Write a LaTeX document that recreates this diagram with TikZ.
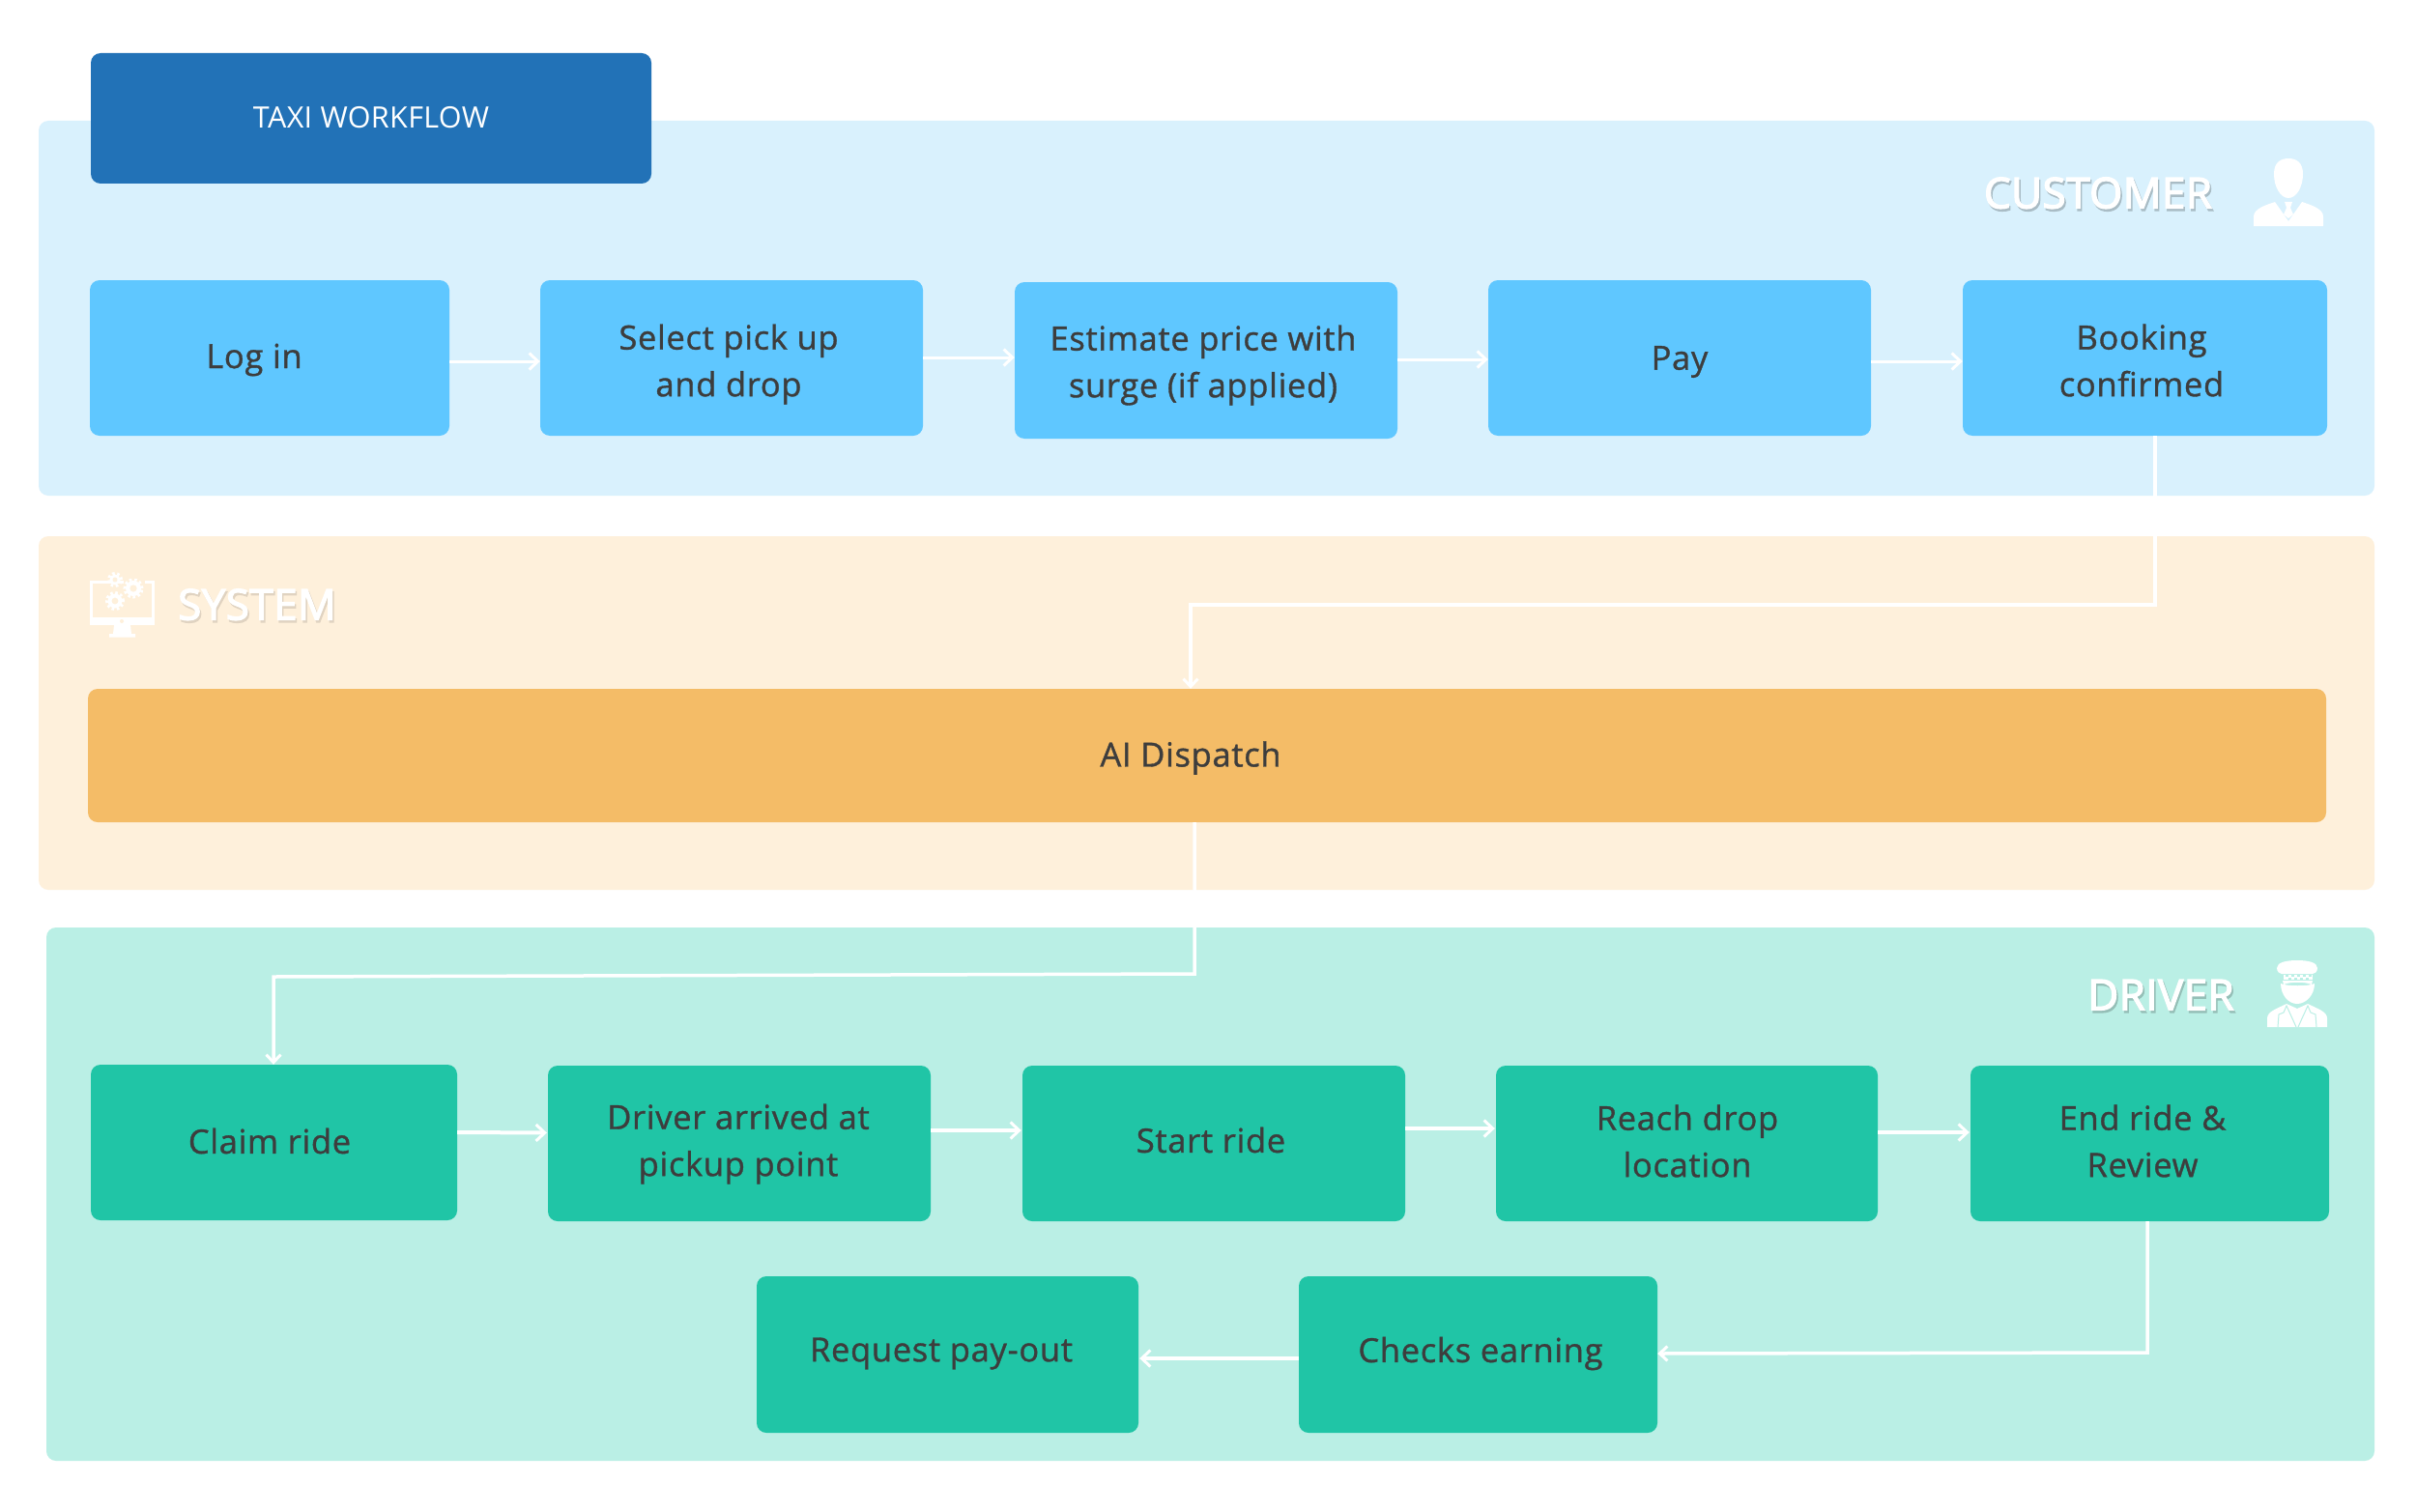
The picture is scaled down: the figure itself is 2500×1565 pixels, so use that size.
\documentclass[tikz,border=0pt]{standalone}
\usepackage{fontspec}
\setmainfont{Open Sans}[LetterSpace=2,FakeBold=1]
\newfontfamily\headfont{Open Sans}[LetterSpace=1,FakeBold=3]
\newfontfamily\titlefont{Open Sans}[LetterSpace=1.2]
\usetikzlibrary{arrows.meta,calc}
\definecolor{custbg}{HTML}{D9F1FD}
\definecolor{sysbg}{HTML}{FEF0DB}
\definecolor{drvbg}{HTML}{BAEFE5}
\definecolor{custbox}{HTML}{5FC7FF}
\definecolor{sysbox}{HTML}{F4BC67}
\definecolor{drvbox}{HTML}{20C5A6}
\definecolor{titlebox}{HTML}{2272B7}
\definecolor{ink}{HTML}{3D3D3D}
\newcommand{\boxat}[6]{% style, name, x1, y1, x2, y2
  \pgfmathsetmacro{\bw}{#5-#3}\pgfmathsetmacro{\bh}{#6-#4}
  \pgfmathsetmacro{\bx}{(#3+#5)/2}\pgfmathsetmacro{\by}{(#4+#6)/2}
  \node[#1,minimum width=\bw pt,minimum height=\bh pt] (#2) at (\bx,\by) {};}
\newcommand{\shadowed}[2]{\leavevmode\rlap{\raisebox{-2.5pt}{\kern1.5pt\textcolor{#1}{#2}}}\textcolor{white}{#2}}
\tikzset{
  x=1pt,y=-1pt,
  band/.style={rectangle,rounded corners=10pt,inner sep=0pt,draw=none},
  card/.style={rectangle,rounded corners=10pt,inner sep=0pt,draw=none},
  boxtext/.style={text=ink,align=center,inner sep=0pt,font=\fontsize{34.5}{48.5}\selectfont},
  head/.style={inner sep=0pt,font=\headfont\fontsize{44}{50}\selectfont},
  flow/.style={draw=white,line width=3pt,-{Straight Barb[length=9pt,width=17pt,line width=3pt]}},
  flowb/.style={draw=white,line width=4pt,-{Straight Barb[length=9pt,width=17pt,line width=3pt]},shorten >=1pt},
  link/.style={draw=white,line width=3.5pt,-{Straight Barb[length=8pt,width=15pt,line width=3pt]}},
}
\begin{document}
\begin{tikzpicture}
\useasboundingbox (0,0) rectangle (2500,1565);
\fill[white] (0,0) rectangle (2500,1565);
% bands
\boxat{band,fill=custbg}{bandcust}{40}{125}{2457}{513}
\boxat{band,fill=sysbg}{bandsys}{40}{555}{2457}{921}
\boxat{band,fill=drvbg}{banddrv}{48}{960}{2457}{1512}
% title
\boxat{card,fill=titlebox}{title}{94}{55}{674}{190}
\node[inner sep=0pt,text=white,font=\titlefont\fontsize{30.5}{36}\selectfont] (titletext) at (384,122) {TAXI WORKFLOW};
% customer row
\boxat{card,fill=custbox}{login}{93}{290}{465}{451}
\boxat{card,fill=custbox}{select}{559}{290}{955}{451}
\boxat{card,fill=custbox}{estimate}{1050}{292}{1446}{454}
\boxat{card,fill=custbox}{pay}{1540}{290}{1936}{451}
\boxat{card,fill=custbox}{booking}{2031}{290}{2408}{451}
\node[boxtext] (tlogin) at (263,372.5) {Log in};
\node[boxtext] (tselect) at (754,377) {Select pick up\\and drop};
\node[boxtext] (testimate) at (1245,378) {Estimate price with\\surge (if applied)};
\node[boxtext] (tpay) at (1738,374.5) {Pay};
\node[boxtext] (tbooking) at (2216,373) {Booking\\confirmed};
% system
\boxat{card,fill=sysbox}{dispatch}{91}{713}{2407}{851}
\node[boxtext] (tdispatch) at (1232,784.5) {AI Dispatch};
% driver rows
\boxat{card,fill=drvbox}{claim}{94}{1102}{473}{1263}
\boxat{card,fill=drvbox}{arrived}{567}{1103}{963}{1264}
\boxat{card,fill=drvbox}{start}{1058}{1103}{1454}{1264}
\boxat{card,fill=drvbox}{reach}{1548}{1103}{1943}{1264}
\boxat{card,fill=drvbox}{endride}{2039}{1103}{2410}{1264}
\boxat{card,fill=drvbox}{payout}{783}{1321}{1178}{1483}
\boxat{card,fill=drvbox}{checks}{1344}{1321}{1715}{1483}
\node[boxtext] (tclaim) at (279,1181) {Claim ride};
\node[boxtext] (tarrived) at (764,1184) {Driver arrived at\\pickup point};
\node[boxtext] (tstart) at (1253,1180) {Start ride};
\node[boxtext] (treach) at (1746,1181) {Reach drop\\location};
\node[boxtext] (tend) at (2217,1181) {End ride \&\\Review};
\node[boxtext] (tpayout) at (974,1401) {Request pay-out};
\node[boxtext] (tchecks) at (1532,1401) {Checks earning};
% headings
\node[head] (hcust) at (2171,201) {\shadowed{black!22!custbg}{CUSTOMER}};
\node[head] (hsys) at (266,627) {\shadowed{black!12!sysbg}{SYSTEM}};
\node[head] (hdrv) at (2236,1031) {\shadowed{black!20!drvbg}{DRIVER}};
% connectors
\draw[flow] ([yshift=-3.5pt]login.east) -- ([yshift=-3.5pt]select.west);
\draw[flow] ([yshift=.5pt]select.east) -- ([yshift=3pt]estimate.west);
\draw[flow] ([yshift=1pt]estimate.east) -- ([yshift=-1.5pt]pay.west);
\draw[flow] ([yshift=-3.5pt]pay.east) -- ([yshift=-3.5pt]booking.west);
\coordinate (bk1) at (2230,626);
\coordinate (bk2) at (1232,626);
\draw[link] (booking.south -| bk1) -- (bk1) -- (bk2) -- (dispatch.north -| bk2);
\coordinate (ai1) at (1236,1008);
\coordinate (ai2) at (283,1011);
\draw[link] (dispatch.south -| ai1) -- (ai1) -- (ai2) -- (claim.north -| ai2);
\draw[flowb] ([yshift=10.5pt]claim.east) -- ([yshift=11pt]arrived.west);
\draw[flowb] ([yshift=13.5pt]arrived.east) -- ([yshift=13.5pt]start.west);
\draw[flowb] ([yshift=15.5pt]start.east) -- ([yshift=15.5pt]reach.west);
\draw[flowb] ([yshift=11.5pt]reach.east) -- ([yshift=11.5pt]endride.west);
\coordinate (en1) at (2222,1400);
\draw[link] (endride.south -| en1) -- (en1) -- ([yshift=1pt]checks.east);
\draw[flowb] ([yshift=-4pt]checks.west) -- ([yshift=-4pt]payout.east);
% customer icon
\fill[white] (2353,180) .. controls (2353,168) and (2360,164) .. (2368,164)
  .. controls (2376,164) and (2383,168) .. (2383,180)
  .. controls (2383,194) and (2376,205) .. (2368,205)
  .. controls (2360,205) and (2353,194) .. (2353,180) -- cycle;
\fill[white] (2332,234) -- (2332,224) .. controls (2332,216) and (2345,212) .. (2354,209)
  -- (2368,229) -- (2382,209) .. controls (2391,212) and (2404,216) .. (2404,224) -- (2404,234) -- cycle;
\fill[white] (2364,209) -- (2372,209) -- (2370,215) -- (2373,222) -- (2368,226) -- (2363,222) -- (2366,215) -- cycle;
% system icon
\draw[white,line width=3pt] (128,602.5) -- (94.5,602.5) -- (94.5,640);
\draw[white,line width=3pt] (150,602.5) -- (158.5,602.5) -- (158.5,640);
\fill[white] (93,639) rectangle (160,647);
\fill[sysbg] (126,643) circle (2pt);
\fill[white] (118,647) -- (135,647) -- (136,656) -- (140,656) -- (140,659.5) -- (113,659.5) -- (113,656) -- (117,656) -- cycle;
\foreach \gx/\gy/\gr in {119/600/5.5,138/609/8,119/622/7.5}{
  \fill[white] (\gx,\gy) circle (\gr pt);
  \draw[white,line width=3pt,dash pattern=on 2.6pt off 2.6pt] (\gx,\gy) circle (\gr pt+1pt);
  \fill[sysbg] (\gx,\gy) circle (.45*\gr pt);
}
% driver icon
\fill[white] (2356,1002) .. controls (2356,996) and (2366,994) .. (2377,994)
  .. controls (2388,994) and (2398,996) .. (2398,1002)
  .. controls (2398,1006) and (2395,1008) .. (2393,1008) -- (2361,1008)
  .. controls (2359,1008) and (2356,1006) .. (2356,1002) -- cycle;
\fill[white] (2363,1009) rectangle (2393,1014);
\foreach \cx in {2365,2371,2377,2383,2389}{\fill[drvbg] (\cx,1009) rectangle +(3,2.4);}
\foreach \cx in {2368,2374,2380,2386}{\fill[drvbg] (\cx,1011.6) rectangle +(3,2.4);}
\fill[white] (2362,1015) -- (2393,1015) -- (2392,1019) .. controls (2385,1016) and (2370,1016) .. (2363,1019) -- cycle;
\fill[white] (2360,1018) .. controls (2366,1021) and (2389,1021) .. (2395,1018)
  .. controls (2395,1030) and (2386,1039) .. (2377,1039)
  .. controls (2368,1039) and (2360,1030) .. (2360,1018) -- cycle;
\fill[white] (2346,1063) -- (2346,1054) .. controls (2346,1047) and (2356,1044) .. (2366,1039)
  -- (2377,1044) -- (2388,1039) .. controls (2398,1044) and (2408,1047) .. (2408,1054) -- (2408,1063) -- cycle;
\draw[drvbg,line width=1pt] (2357,1063) -- (2358,1050) -- (2363,1048) -- (2366,1041) -- (2376,1063);
\draw[drvbg,line width=1pt] (2397,1063) -- (2396,1050) -- (2391,1048) -- (2388,1041) -- (2378,1063);
\end{tikzpicture}
\end{document}
